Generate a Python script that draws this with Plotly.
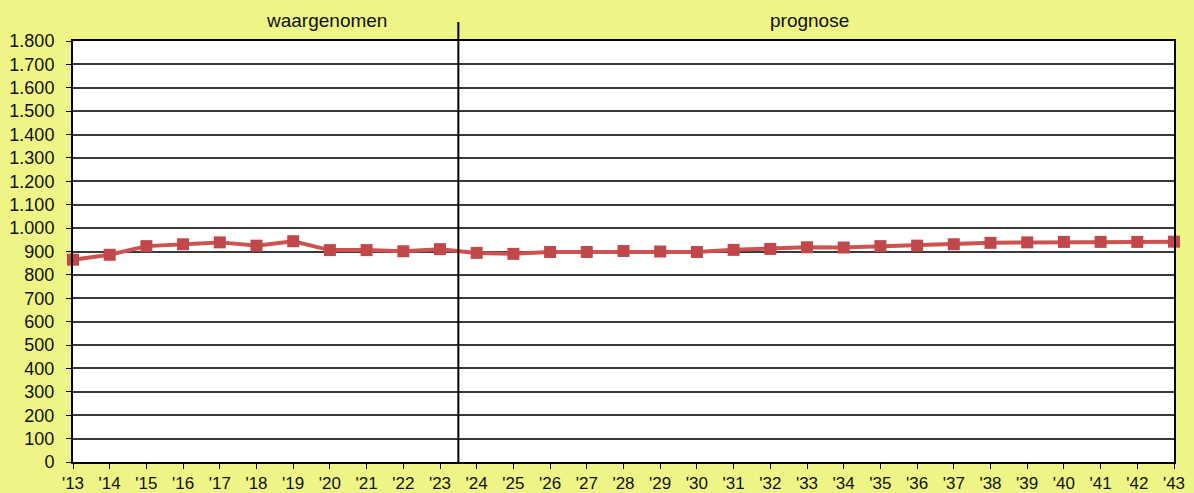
import plotly.graph_objects as go

years = list(range(2013, 2044))
year_labels = ["'" + str(y)[2:] for y in years]
values = [865, 886, 923, 931, 939, 925, 944, 906, 906, 901, 910,
          894, 890, 898, 898, 902, 900, 898, 907, 911, 918,
          917, 923, 925, 931, 937, 939, 941, 941, 941, 942]
split_year = 2023.5
section_labels = ["waargenomen", "prognose"]
y_ticks = list(range(0, 1801, 100))
y_ticktext = [f"{v:,}".replace(",", ".") for v in y_ticks]

bg = "#EEF586"
fig = go.Figure()
fig.add_trace(go.Scatter(
    x=years, y=values, mode="lines+markers",
    line=dict(color="#CD5250", width=4),
    marker=dict(symbol="square", size=12, color="#C0484A"),
    cliponaxis=False, showlegend=False,
))

fig.add_shape(type="line", x0=split_year, x1=split_year, y0=0, y1=1.045,
              xref="x", yref="paper", line=dict(color="black", width=2))

fig.add_annotation(x=0.23, xref="paper", xanchor="center", y=1.0, yref="paper",
                   yshift=21, text=section_labels[0], showarrow=False,
                   font=dict(size=19, color="#111"), yanchor="middle")
fig.add_annotation(x=0.669, xref="paper", xanchor="center", y=1.0, yref="paper",
                   yshift=21, text=section_labels[1], showarrow=False,
                   font=dict(size=19, color="#111"), yanchor="middle")

fig.update_layout(
    width=1194, height=493,
    paper_bgcolor=bg, plot_bgcolor="white",
    margin=dict(l=73, r=20, t=41, b=31),
    font=dict(family="Liberation Sans, Arial, sans-serif", color="#111"),
    xaxis=dict(range=[years[0], years[-1]], tickvals=years, ticktext=year_labels,
               showgrid=False, ticks="outside", ticklen=5, tickcolor="black",
               tickfont=dict(size=17), showline=True, linecolor="black",
               linewidth=2, mirror=True, zeroline=False, automargin=False),
    yaxis=dict(range=[0, 1800], tickvals=y_ticks, ticktext=y_ticktext,
               showgrid=True, gridcolor="#3a3a3a", gridwidth=1.5,
               ticks="outside", ticklen=5, tickcolor="black",
               ticklabelstandoff=8,
               tickfont=dict(size=18), showline=True, linecolor="black",
               linewidth=2, mirror=True, zeroline=False, automargin=False),
)

fig.write_html("out.html", config={"displayModeBar": False},
               post_script="document.body.style.margin='0';")
